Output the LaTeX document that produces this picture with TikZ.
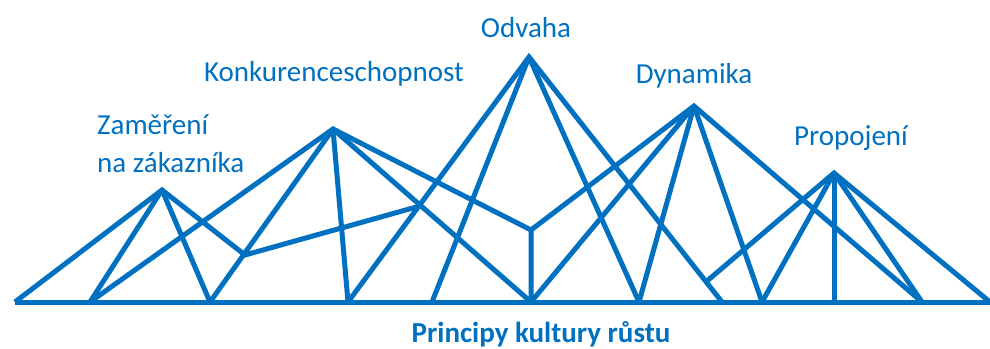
\documentclass[tikz,border=0pt]{standalone}
\usepackage{fontspec}
\setmainfont{Carlito}
\definecolor{growthblue}{HTML}{0070C0}
\begin{document}
\begin{tikzpicture}[x=1pt, y=-1pt,
      beam/.style={draw=growthblue, line width=5pt, line join=miter},
      peaklabel/.style={text=growthblue, font=\fontsize{29}{38}\selectfont, inner sep=0pt}]
   \useasboundingbox (0, 0) rectangle (990, 348);
   % peaks
   \coordinate (zam) at (162, 190);
   \coordinate (konk) at (333, 129);
   \coordinate (odv) at (529, 57);
   \coordinate (dyn) at (694, 106);
   \coordinate (prop) at (834, 173);
   % inner joints
   \coordinate (knee) at (245, 255);
   \coordinate (kneeend) at (420, 206);
   \coordinate (valley) at (531, 230);
   \coordinate (hook) at (707, 281);
   % feet on the ground line
   \foreach \x in {15, 90, 210, 348, 432, 531, 639, 722, 762, 834, 922, 990} {
      \coordinate (b\x) at (\x, 302);
   }
   \draw[beam] (b15) -- (b990);
   % Zamereni
   \draw[beam] (b15) -- (zam) -- (knee) -- (kneeend);
   \foreach \b in {b90, b210} {
      \draw[beam] (zam) -- (\b);
   }
   % Konkurenceschopnost
   \draw[beam] (b90) -- (konk) -- (valley) -- (b531);
   \foreach \b in {b210, b348, b531} {
      \draw[beam] (konk) -- (\b);
   }
   % Odvaha
   \draw[beam] (b348) -- (odv) -- (b722);
   \foreach \b in {b432, b639} {
      \draw[beam] (odv) -- (\b);
   }
   % Dynamika
   \draw[beam] (valley) -- (dyn) -- (b922);
   \foreach \b in {b531, b639, b762} {
      \draw[beam] (dyn) -- (\b);
   }
   % Propojeni
   \draw[beam] (hook) -- (prop) -- (b990);
   \foreach \b in {b762, b834, b922} {
      \draw[beam] (prop) -- (\b);
   }
   % labels
   \node[peaklabel, anchor=base west, align=left] (zamlabel) at (97, 172) {Zaměření\\na zákazníka};
   \node[peaklabel, anchor=base] (konklabel) at (334, 81) {Konkurenceschopnost};
   \node[peaklabel, anchor=base] (odvlabel) at (526, 37) {Odvaha};
   \node[peaklabel, anchor=base] (dynlabel) at (694, 83) {Dynamika};
   \node[peaklabel, anchor=base] (proplabel) at (851, 145) {Propojení};
   \node[peaklabel, anchor=base, font=\fontsize{29}{38}\selectfont\bfseries] (title) at (541, 342) {Principy kultury růstu};
\end{tikzpicture}
\end{document}
